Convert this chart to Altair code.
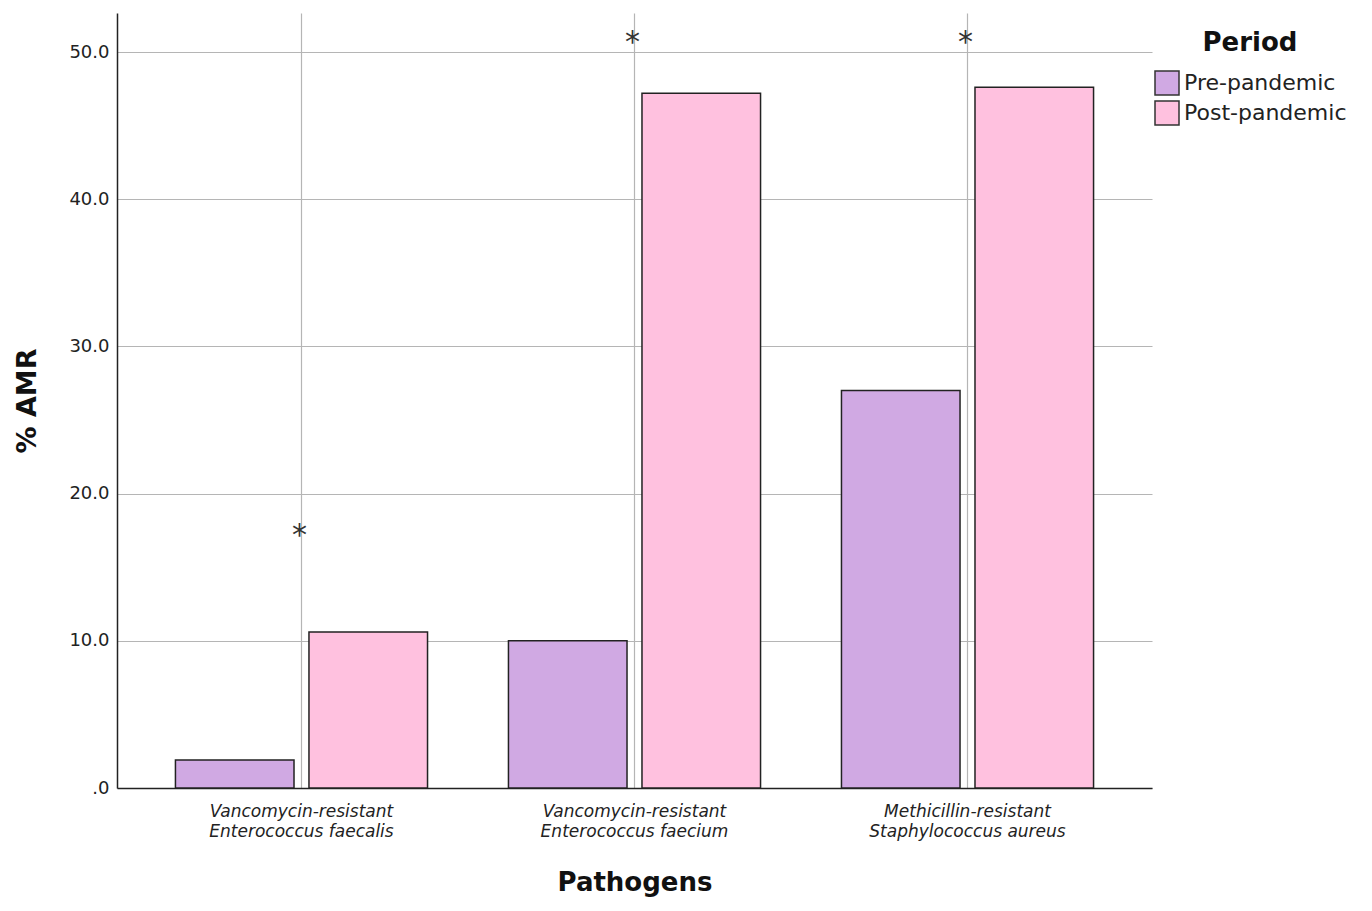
import altair as alt
import pandas as pd

# Categories: "|" marks the line break in the axis label
pathogens = [
    "Vancomycin-resistant|Enterococcus faecalis",
    "Vancomycin-resistant|Enterococcus faecium",
    "Methicillin-resistant|Staphylococcus aureus",
]
periods = ["Pre-pandemic", "Post-pandemic"]
period_colors = ["#D0A9E3", "#FFC1DF"]

# % AMR per pathogen and period
pre_values = [1.9, 10.0, 27.0]
post_values = [10.6, 47.2, 47.6]

# significance markers
star_labels = ["*", "*", "*"]
star_values = [17.6, 51.1, 51.1]

font = "DejaVu Sans"

bars_df = pd.DataFrame({
    "pathogen": pathogens * 2,
    "period": [periods[0]] * 3 + [periods[1]] * 3,
    "amr": pre_values + post_values,
})
stars_df = pd.DataFrame({"pathogen": pathogens, "star": star_labels, "amr": star_values})

x_scale = alt.Scale(domain=pathogens, paddingInner=0.243, paddingOuter=0.1755)
y_scale = alt.Scale(domain=[0, 52.65], nice=False)

x_axis = alt.Axis(
    title="Pathogens", grid=True, gridColor="#b5b5b5", gridWidth=1.2,
    ticks=False, labelAngle=0, labelExpr="split(datum.label, '|')", labelLimit=400,
    labelFont=font, labelFontSize=17, labelFontStyle="italic", labelColor="#222",
    labelLineHeight=20, labelPadding=15,
    domainColor="#222", domainWidth=1.5,
    titleFont=font, titleFontSize=26, titleFontWeight="bold", titleColor="#111", titlePadding=30,
)
y_axis = alt.Axis(
    title="% AMR", values=[0, 10, 20, 30, 40, 50], grid=True, gridColor="#b5b5b5", gridWidth=1.2,
    ticks=False, labelExpr="datum.value == 0 ? '.0' : format(datum.value, '.1f')",
    labelFont=font, labelFontSize=18, labelColor="#222", labelPadding=8,
    domainColor="#222", domainWidth=1.5,
    titleFont=font, titleFontSize=27, titleFontWeight="bold", titleColor="#111", titlePadding=27,
)

bars = alt.Chart(bars_df).mark_bar(stroke="#222", strokeWidth=1.5).encode(
    x=alt.X("pathogen:N", scale=x_scale, axis=x_axis, sort=pathogens),
    xOffset=alt.XOffset("period:N", sort=periods, scale=alt.Scale(domain=periods, paddingInner=0.112)),
    y=alt.Y("amr:Q", scale=y_scale, axis=y_axis),
    color=alt.Color(
        "period:N",
        scale=alt.Scale(domain=periods, range=period_colors),
        legend=alt.Legend(
            title="Period", orient="none", legendX=1037, legendY=17,
            symbolType="square", symbolSize=576,
            symbolStrokeColor="#333", symbolStrokeWidth=1.5, symbolOpacity=1,
            labelFont=font, labelFontSize=22, labelColor="#222", labelOffset=4, labelLimit=300,
            titleFont=font, titleFontSize=26, titleFontWeight="bold", titleColor="#111",
            titleAnchor="middle", titlePadding=14, rowPadding=0,
        ),
    ),
)

stars = alt.Chart(stars_df).mark_text(font=font, fontSize=30, color="#333", dx=-2, dy=7).encode(
    x=alt.X("pathogen:N", scale=x_scale, sort=pathogens),
    y=alt.Y("amr:Q", scale=y_scale),
    text="star:N",
)

chart = alt.layer(bars, stars).properties(width=1035, height=775).configure_view(stroke=None)

chart.save("out.html", embed_options={"renderer": "svg", "actions": False})
